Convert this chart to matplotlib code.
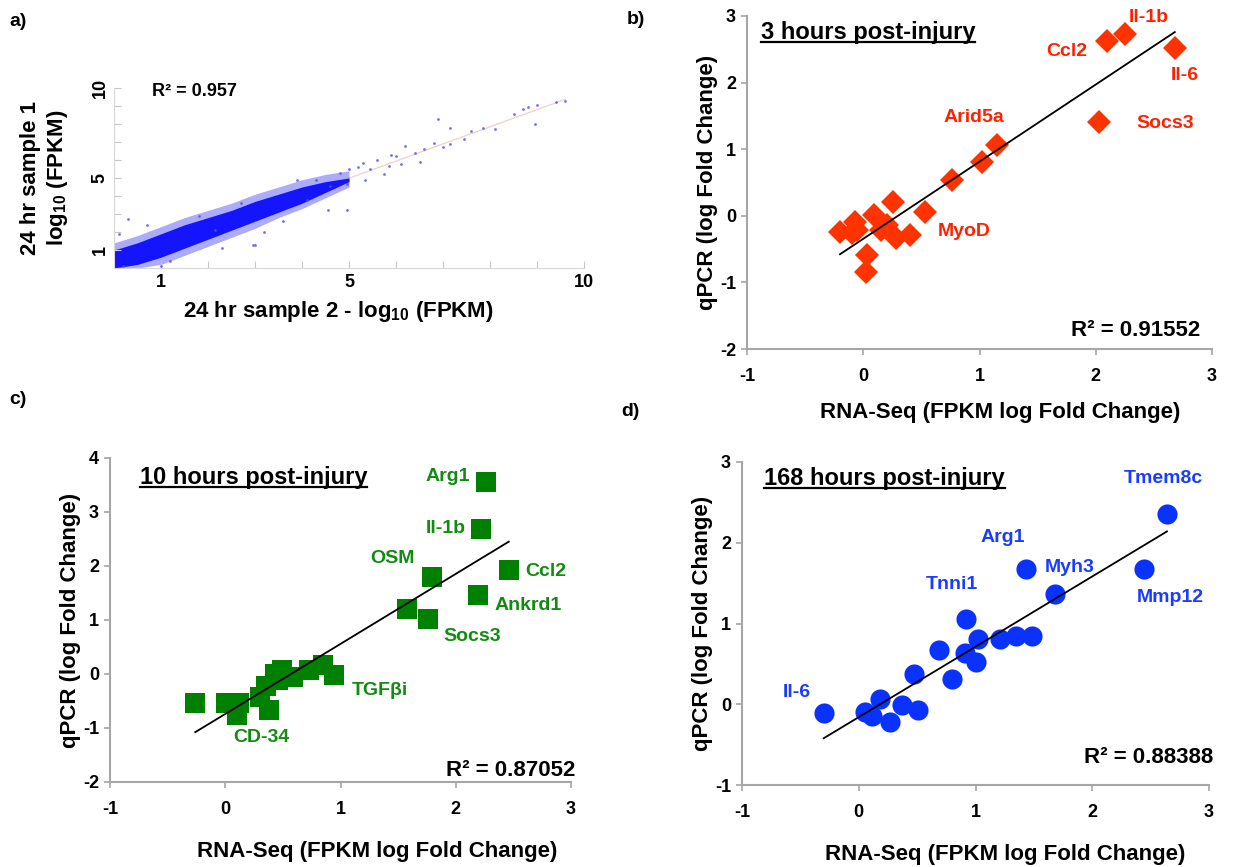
import numpy as np
import matplotlib.pyplot as plt
from matplotlib.lines import Line2D

plt.rcParams['font.family'] = ['Liberation Sans', 'DejaVu Sans']
plt.rcParams['font.weight'] = 'bold'
plt.rcParams['axes.labelweight'] = 'bold'
plt.rcParams['axes.unicode_minus'] = False
plt.rcParams['mathtext.fontset'] = 'custom'
plt.rcParams['mathtext.rm'] = 'Liberation Sans:bold'
plt.rcParams['mathtext.default'] = 'rm'

W, H = 1233, 867

# ---- panel a: 24 hr sample 1 vs sample 2 (dense cloud + sparse points)
a_band_x = [0.0, 0.5, 1.0, 1.5, 2.0, 2.5, 3.0, 3.5, 4.0, 4.5, 5.0]
a_band_lo = [0.0, 0.0, 0.2, 0.7, 1.2, 1.7, 2.2, 2.8, 3.3, 3.9, 4.5]
a_band_hi = [1.4, 1.8, 2.3, 2.8, 3.2, 3.6, 4.1, 4.5, 4.9, 5.2, 5.4]
a_core_lo = [0.0, 0.2, 0.6, 1.1, 1.6, 2.1, 2.6, 3.1, 3.6, 4.2, 4.8]
a_core_hi = [1.0, 1.4, 1.9, 2.4, 2.8, 3.2, 3.7, 4.1, 4.5, 4.8, 5.0]
a_sparse = [(9.6, 9.3), (9.4, 9.25), (9.0, 9.05), (8.95, 8.0), (8.8, 8.95), (8.7, 8.85),
            (8.5, 8.55), (8.1, 7.7), (7.85, 7.8), (7.6, 7.6), (7.15, 7.8), (6.9, 8.3),
            (7.45, 7.15), (7.15, 6.9), (6.8, 6.95), (6.6, 6.6), (6.2, 6.8), (6.0, 6.2),
            (5.85, 5.65), (5.6, 6.0), (5.45, 5.5), (5.3, 5.85), (4.95, 3.25), (4.6, 4.55),
            (4.55, 3.25), (4.1, 3.8), (4.95, 4.65), (5.35, 4.9), (2.95, 1.3), (2.15, 2.1),
            (6.4, 6.4), (6.1, 5.8), (5.75, 5.2), (5.2, 5.6), (5.0, 5.5), (4.8, 5.3),
            (4.3, 4.9), (3.9, 4.9), (3.6, 2.6), (3.2, 2.0), (2.7, 3.6), (2.3, 1.1),
            (1.8, 2.9), (1.2, 0.4), (0.7, 2.4), (0.3, 2.7), (5.9, 6.3), (6.5, 5.9),
            (7.0, 6.7), (3.0, 1.3), (1.0, 0.1), (0.2, 0.1), (0.1, 1.9)]

# ---- panel b: 3 hours
b_x = [2.25, 2.10, 2.68, 2.03, 1.15, 1.02, 0.76, 0.53, 0.26, 0.09, -0.07, -0.20,
       -0.10, 0.20, 0.28, 0.40, 0.03, 0.02, -0.05, 0.15]
b_y = [2.73, 2.63, 2.52, 1.41, 1.07, 0.81, 0.54, 0.06, 0.21, 0.01, -0.09, -0.25,
       -0.26, -0.14, -0.34, -0.29, -0.59, -0.84, -0.22, -0.21]
b_genes = ['Il-1b', 'Ccl2', 'Il-6', 'Arid5a', 'Socs3', 'MyoD']
b_gx = [2.46, 1.75, 2.77, 0.95, 2.60, 0.87]
b_gy = [2.98, 2.46, 2.11, 1.48, 1.39, -0.23]

# ---- panel c: 10 hours
c_x = [2.26, 2.22, 2.46, 1.79, 2.19, 1.58, 1.76, 0.94, 0.85, 0.73, 0.59, 0.49,
       0.46, 0.35, 0.30, 0.38, 0.10, 0.01, 0.12, -0.26, 0.43]
c_y = [3.56, 2.68, 1.93, 1.80, 1.46, 1.20, 1.02, -0.02, 0.17, 0.07, -0.05, 0.07,
       -0.11, -0.23, -0.42, -0.67, -0.76, -0.54, -0.54, -0.54, 0.0]
c_genes = ['Arg1', 'Il-1b', 'OSM', 'Ccl2', 'Ankrd1', 'Socs3', 'TGF\u03b2i', 'CD-34']
c_gx = [1.93, 1.91, 1.45, 2.78, 2.63, 2.14, 1.34, 0.31]
c_gy = [3.65, 2.70, 2.13, 1.89, 1.26, 0.70, -0.30, -1.17]

# ---- panel d: 168 hours
d_x = [2.64, 1.43, 2.44, 1.68, 0.92, 1.02, 1.21, 1.35, 1.48, 0.69, 0.91, 1.00,
       0.47, 0.80, -0.30, 0.05, 0.11, 0.18, 0.27, 0.37, 0.51]
d_y = [2.36, 1.68, 1.68, 1.37, 1.06, 0.81, 0.81, 0.85, 0.85, 0.67, 0.63, 0.52,
       0.38, 0.31, -0.11, -0.09, -0.15, 0.07, -0.22, -0.01, -0.07]
d_genes = ['Tmem8c', 'Arg1', 'Myh3', 'Mmp12', 'Tnni1', 'Il-6']
d_gx = [2.61, 1.23, 1.81, 2.67, 0.80, -0.53]
d_gy = [2.79, 2.07, 1.69, 1.32, 1.48, 0.14]

fig = plt.figure(figsize=(W / 100, H / 100), dpi=100)


def px_axes(l, t, r, b):
    return fig.add_axes([l / W, 1 - b / H, (r - l) / W, (b - t) / H])


def bold_ticks(ax, size):
    for lab in ax.get_xticklabels() + ax.get_yticklabels():
        lab.set_fontweight('bold')
        lab.set_fontsize(size)


# ------------------------------------------------------------------ panel a
ax = px_axes(114, 88, 584, 268)
ax.fill_between(a_band_x, a_band_lo, a_band_hi, color='#5a5aff', alpha=0.5, lw=0)
ax.fill_between(a_band_x, a_core_lo, a_core_hi, color='#1414ff', lw=0)
sx, sy = zip(*a_sparse)
ax.plot(sx, sy, 'o', ms=2, color='#5050e6', mew=0, alpha=0.8)
fit = np.polyfit(sx, sy, 1)
xx = np.array([0, max(sx)])
ax.plot(xx, np.polyval(fit, xx), color='#ecd6cf', lw=1, zorder=0)
ax.set_xlim(0, 10)
ax.set_ylim(0, 10)
ticks = list(range(1, 11))
lbls = ['1', '', '', '', '5', '', '', '', '', '10']
ax.set_xticks(ticks)
ax.set_xticklabels(lbls)
ax.set_yticks(ticks)
ax.set_yticklabels(lbls, rotation=90, va='center')
bold_ticks(ax, 13)
ax.tick_params(direction='in', length=5, color='#c8c8c8', pad=4)
for s in ['top', 'right']:
    ax.spines[s].set_visible(False)
for s in ['left', 'bottom']:
    ax.spines[s].set_color('#d8d8d8')
ax.text(0.08, 0.98, 'R\u00b2 = 0.957', transform=ax.transAxes, fontsize=13,
        va='center', ha='left')
ax.set_xlabel('24 hr sample 2 - log$_{10}$ (FPKM)', fontsize=16, va='center')
ax.xaxis.set_label_coords(0.477, -0.239)
ax.set_ylabel('24 hr sample 1\nlog$_{10}$ (FPKM)', fontsize=16, va='center',
              linespacing=1.25)
ax.yaxis.set_label_coords(-0.147, 0.5)


# ------------------------------------------------------------------ b, c, d
def qpcr_panel(rect, xs, ys, marker, ms, mcolor, tcolor, genes, gx, gy,
               ylim, title, title_xy, r2, r2_xy, xlab_x, xlab_y):
    ax = px_axes(*rect)
    ax.plot(xs, ys, marker, ms=ms, color=mcolor, mew=0, ls='none', zorder=2)
    k = np.polyfit(xs, ys, 1)
    lx = np.array([min(xs), max(xs)])
    ax.plot(lx, np.polyval(k, lx), color='black', lw=1.3, zorder=3)
    for g, x, y in zip(genes, gx, gy):
        ax.text(x, y, g, color=tcolor, fontsize=14, ha='center', va='center')
    ax.set_xlim(-1, 3)
    ax.set_ylim(*ylim)
    ax.set_xticks(range(-1, 4))
    ax.set_yticks(range(ylim[0], ylim[1] + 1))
    bold_ticks(ax, 13)
    ax.tick_params(direction='out', length=4, width=1.2, color='#a6a6a6')
    ax.tick_params(axis='x', pad=10)
    ax.tick_params(axis='y', pad=4)
    for s in ['top', 'right']:
        ax.spines[s].set_visible(False)
    for s in ['left', 'bottom']:
        ax.spines[s].set_color('#a6a6a6')
        ax.spines[s].set_linewidth(1.5)
    ax.set_xlabel('RNA-Seq (FPKM log Fold Change)', fontsize=16, va='center')
    ax.xaxis.set_label_coords(xlab_x, xlab_y)
    ax.set_ylabel('qPCR (log Fold Change)', fontsize=16, va='center')
    ax.yaxis.set_label_coords(-0.085, 0.5)
    t = ax.text(*title_xy, title, transform=ax.transAxes, fontsize=17,
                ha='left', va='center')
    ax.text(*r2_xy, r2, transform=ax.transAxes, fontsize=16, ha='right', va='center')
    return t


titles = []
titles.append(qpcr_panel((747, 16, 1212, 349), b_x, b_y, 'D', 12.5, '#ff3300', '#ff2200',
                         b_genes, b_gx, b_gy, (-2, 3), '3 hours post-injury', (0.03, 0.949),
                         'R\u00b2 = 0.91552', (0.974, 0.057), 0.544, -0.19))
titles.append(qpcr_panel((110, 458, 571, 782), c_x, c_y, 's', 15, '#008000', '#118c11',
                         c_genes, c_gx, c_gy, (-2, 4), '10 hours post-injury', (0.065, 0.941),
                         'R\u00b2 = 0.87052', (1.009, 0.037), 0.58, -0.215))
titles.append(qpcr_panel((742, 462, 1209, 785), d_x, d_y, 'o', 14.5, '#0a32ff', '#1a3cff',
                         d_genes, d_gx, d_gy, (-1, 3), '168 hours post-injury', (0.047, 0.95),
                         'R\u00b2 = 0.88388', (1.009, 0.084), 0.563, -0.215))

# panel letters
for letter, x, y in [('a)', 18, 22), ('b)', 636, 20), ('c)', 18, 400), ('d)', 630, 412)]:
    fig.text(x / W, 1 - y / H, letter, fontsize=14, ha='center', va='center')

# underline the panel titles
fig.canvas.draw()
r = fig.canvas.get_renderer()
for t in titles:
    bb = t.get_window_extent(r)
    y = (bb.y0 + 2) / H
    fig.add_artist(Line2D([bb.x0 / W, bb.x1 / W], [y, y], color='black', lw=1.6))

fig.savefig('out.png', dpi=100)
